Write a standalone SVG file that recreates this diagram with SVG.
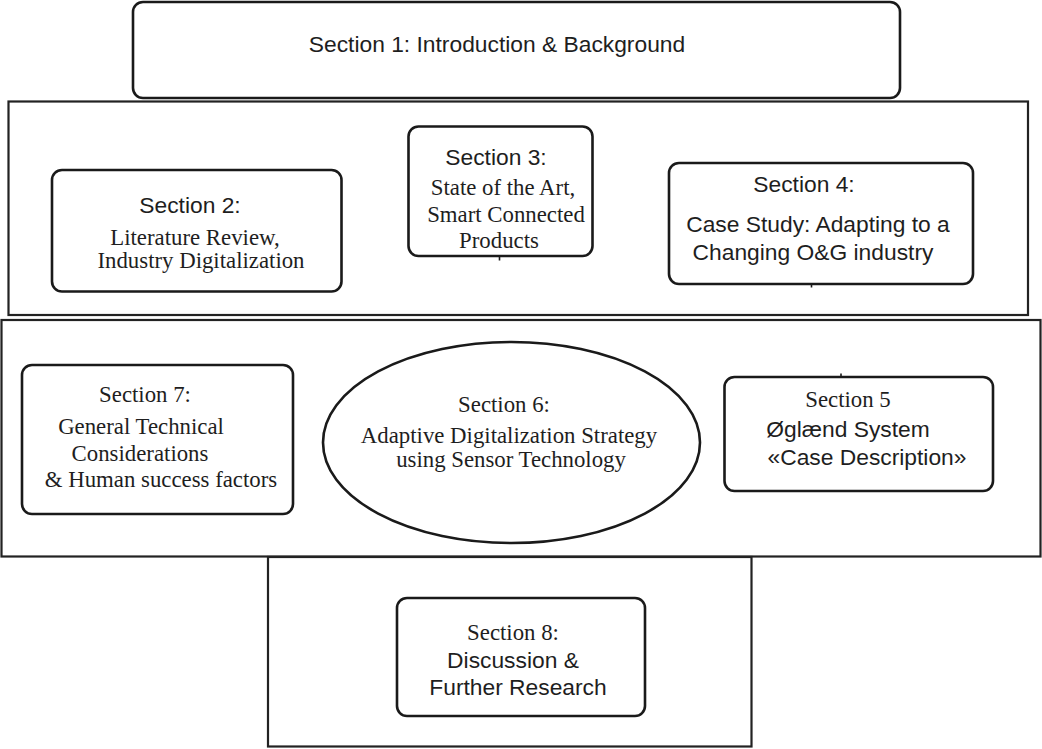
<svg xmlns="http://www.w3.org/2000/svg" width="1042" height="749" viewBox="0 0 1042 749">
  <style>
    .frame { fill: none; stroke: #222; stroke-width: 2.2; }
    .node { fill: #fff; stroke: #1a1a1a; stroke-width: 2.6; }
    .sans { font-family: "Liberation Sans", Arial, Helvetica, sans-serif; font-size: 22.8px; fill: #1e1e1e; text-anchor: middle; }
    .serif { font-family: "Liberation Serif", "Times New Roman", serif; font-size: 22.8px; fill: #1e1e1e; text-anchor: middle; }
    .stub { stroke: #1a1a1a; stroke-width: 1.6; fill: none; }
  </style>
  <rect width="1042" height="749" fill="#fff"/>

  <!-- grouping frames -->
  <g id="frames">
    <rect class="frame" x="8.5" y="101.5" width="1019.5" height="213.5"/>
    <rect class="frame" x="1.5" y="320" width="1039" height="236.5"/>
    <rect class="frame" x="268" y="557" width="483.5" height="189.5"/>
  </g>

  <g id="section1">
    <rect class="node" x="133" y="2" width="767" height="96" rx="10"/>
    <text class="sans" x="497" y="52">Section 1: Introduction &amp; Background</text>
  </g>

  <g id="section2">
    <rect class="node" x="52" y="170" width="289.5" height="121.5" rx="10"/>
    <text class="sans" x="190" y="213">Section 2:</text>
    <text class="serif" x="195" y="245">Literature Review,</text>
    <text class="serif" x="201" y="268">Industry Digitalization</text>
  </g>

  <g id="section3">
    <rect class="node" x="408.5" y="126.5" width="184" height="129.5" rx="10"/>
    <text class="sans" x="496" y="165">Section 3:</text>
    <text class="serif" x="503" y="195">State of the Art,</text>
    <text class="serif" x="506" y="222">Smart Connected</text>
    <text class="serif" x="499" y="248">Products</text>
  </g>

  <g id="section4">
    <rect class="node" x="669" y="163" width="304" height="121" rx="10"/>
    <text class="sans" x="804" y="192">Section 4:</text>
    <text class="sans" x="818" y="232">Case Study: Adapting to a</text>
    <text class="sans" x="813" y="260">Changing O&amp;G industry</text>
  </g>

  <g id="section7">
    <rect class="node" x="22" y="365" width="271" height="149" rx="10"/>
    <text class="serif" x="145" y="402">Section 7:</text>
    <text class="serif" x="141" y="434">General Technical</text>
    <text class="serif" x="140" y="461">Considerations</text>
    <text class="serif" x="161" y="487">&amp; Human success factors</text>
  </g>

  <g id="section6">
    <ellipse class="node" cx="511.5" cy="442.5" rx="188.5" ry="100.5"/>
    <text class="serif" x="504" y="412">Section 6:</text>
    <text class="serif" x="509" y="443">Adaptive Digitalization Strategy</text>
    <text class="serif" x="511" y="467">using Sensor Technology</text>
  </g>

  <g id="section5">
    <rect class="node" x="724.5" y="377" width="268.5" height="114" rx="10"/>
    <text class="serif" x="848" y="407">Section 5</text>
    <text class="sans" x="848" y="437">Øglænd System</text>
    <text class="sans" x="867" y="465">«Case Description»</text>
  </g>

  <g id="section8">
    <rect class="node" x="397" y="598" width="248" height="118" rx="10"/>
    <text class="serif" x="513" y="640">Section 8:</text>
    <text class="sans" x="513" y="668">Discussion &amp;</text>
    <text class="sans" x="518" y="695">Further Research</text>
  </g>

  <!-- short connector stubs left on the node edges -->
  <g id="connectors">
    <line class="stub" x1="499.5" y1="256" x2="499.5" y2="260.5"/>
    <line class="stub" x1="811.5" y1="284" x2="811.5" y2="287.5"/>
    <line class="stub" x1="841" y1="373.5" x2="841" y2="377"/>
  </g>
</svg>
